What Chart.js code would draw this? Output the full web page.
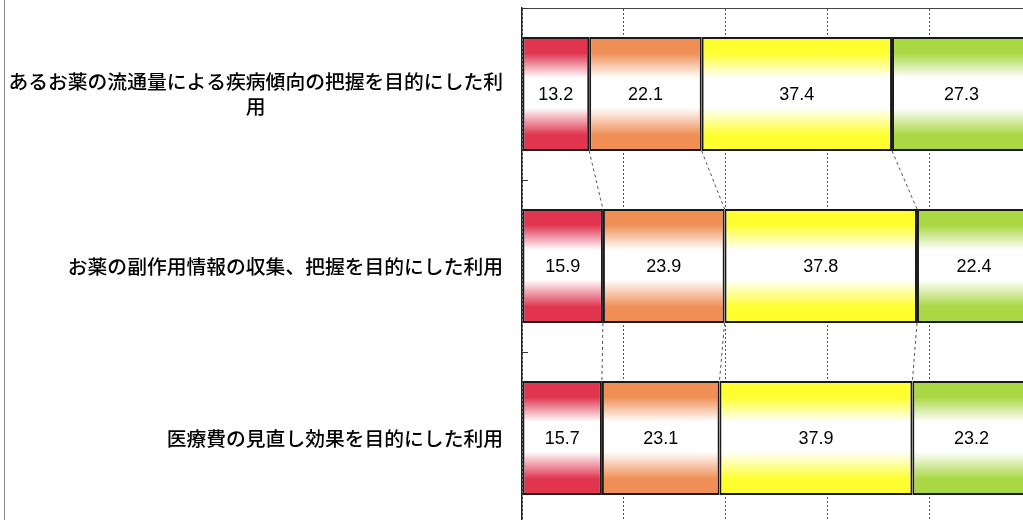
<!DOCTYPE html>
<html lang="ja">
  <head>
    <meta charset="utf-8">
    <title>利用目的別の回答割合</title>
    <style>
      html, body { margin: 0; padding: 0; background: #fff; overflow: hidden; }
      #wrap { position: absolute; left: 0; top: 0; width: 1040px; height: 540px; }
    </style>
  </head>

  <body>
    <div id="wrap"><canvas id="MyCanvas" width="1040" height="540"></canvas></div>

    <script src="https://cdn.jsdelivr.net/npm/chart.js"></script>

    <script>
      // categorias (eje vertical), con salto de linea como en el original
      const categories = [
        ['あるお薬の流通量による疾病傾向の把握を目的にした利', '用'],
        ['お薬の副作用情報の収集、把握を目的にした利用'],
        ['医療費の見直し効果を目的にした利用']
      ];

      // valores de cada serie (%)
      const serie1 = [13.2, 15.9, 15.7];
      const serie2 = [22.1, 23.9, 23.1];
      const serie3 = [37.4, 37.8, 37.9];
      const serie4 = [27.3, 22.4, 23.2];

      const xTicks = [0, 20, 40, 60, 80, 100];

      const colors = ['#E0344F', '#EF8F56', '#FFFF30', '#AAD744'];
      const barPct = 0.663;

      // gradiente vertical: color arriba y abajo, blanco al centro
      function grad(color) {
        return function (ctx) {
          const chart = ctx.chart;
          const y = chart.scales && chart.scales.y;
          if (!y || ctx.type !== 'data') return color;
          const c = y.getPixelForValue(ctx.dataIndex);
          const step = Math.abs(y.getPixelForValue(1) - y.getPixelForValue(0));
          if (!isFinite(c) || !isFinite(step) || step === 0) return color;
          const half = step * barPct / 2;
          const g = chart.ctx.createLinearGradient(0, c - half, 0, c + half);
          g.addColorStop(0, color);
          g.addColorStop(0.14, color);
          g.addColorStop(0.36, '#ffffff');
          g.addColorStop(0.62, '#ffffff');
          g.addColorStop(0.86, color);
          g.addColorStop(1, color);
          return g;
        };
      }

      const series = [serie1, serie2, serie3, serie4];

      // borde izquierdo del area del grafico
      const chartBorder = {
        id: 'chartBorder',
        beforeDraw(chart) {
          const c = chart.ctx;
          c.save();
          c.strokeStyle = '#8a8a8a';
          c.lineWidth = 1;
          c.beginPath();
          c.moveTo(4.5, 0);
          c.lineTo(4.5, chart.height);
          c.stroke();
          c.restore();
        }
      };

      // lineas de serie punteadas entre barras
      const seriesLines = {
        id: 'seriesLines',
        afterDatasetsDraw(chart) {
          const c = chart.ctx;
          c.save();
          c.strokeStyle = '#555';
          c.lineWidth = 1;
          c.setLineDash([3, 3]);
          chart.data.datasets.forEach(function (ds, i) {
            const els = chart.getDatasetMeta(i).data;
            for (let k = 0; k < els.length - 1; k++) {
              const a = els[k].getProps(['x', 'y', 'height'], true);
              const b = els[k + 1].getProps(['x', 'y', 'height'], true);
              c.beginPath();
              c.moveTo(a.x, a.y + a.height / 2);
              c.lineTo(b.x, b.y - b.height / 2);
              c.stroke();
            }
          });
          c.restore();
        }
      };

      // etiquetas de valores en el centro de cada segmento
      const valueLabels = {
        id: 'valueLabels',
        afterDatasetsDraw(chart) {
          const c = chart.ctx;
          c.save();
          c.font = '18px "Liberation Sans", Arial, sans-serif';
          c.fillStyle = '#000';
          c.textAlign = 'center';
          c.textBaseline = 'middle';
          chart.data.datasets.forEach(function (ds, i) {
            chart.getDatasetMeta(i).data.forEach(function (el, k) {
              const p = el.getProps(['x', 'y', 'base'], true);
              c.fillText(ds.data[k].toFixed(1), (p.x + p.base) / 2, p.y + 1);
            });
          });
          c.restore();
        }
      };

      // etiquetas de categoria: lineas centradas, bloque alineado a la derecha
      const catLabels = {
        id: 'catLabels',
        afterDraw(chart) {
          const c = chart.ctx;
          const y = chart.scales.y;
          const right = 503;
          const lh = 25;
          c.save();
          c.font = '500 19.8px "Noto Sans CJK JP", sans-serif';
          c.fillStyle = '#000';
          c.textAlign = 'center';
          c.textBaseline = 'middle';
          categories.forEach(function (lines, i) {
            let w = 0;
            lines.forEach(function (t) { w = Math.max(w, c.measureText(t).width); });
            const cx = right - w / 2;
            const cy = y.getPixelForValue(i);
            lines.forEach(function (t, j) {
              c.fillText(t, cx, cy + (j - (lines.length - 1) / 2) * lh);
            });
          });
          // marcas pequenas hacia dentro entre categorias
          c.strokeStyle = '#333';
          c.lineWidth = 1;
          for (let i = 0; i <= categories.length; i++) {
            const py = Math.round(y.getPixelForValue(i - 0.5)) + 0.5;
            c.beginPath();
            c.moveTo(chart.chartArea.left, py);
            c.lineTo(chart.chartArea.left + 6, py);
            c.stroke();
          }
          c.restore();
        }
      };

      const ctx = document.getElementById('MyCanvas');
      const MyCanvas = new Chart(ctx, {
        type: 'bar',
        data: {
          labels: categories.map(function (l) { return l.join(''); }),
          datasets: series.map(function (s, i) {
            return {
              label: 'serie' + (i + 1),
              data: s,
              backgroundColor: grad(colors[i]),
              borderColor: '#1a1a1a',
              borderWidth: 2,
              borderSkipped: false,
              barPercentage: barPct,
              categoryPercentage: 1
            };
          })
        },
        options: {
          indexAxis: 'y',
          responsive: false,
          animation: false,
          devicePixelRatio: 1,
          layout: { padding: { left: 0, right: 9, top: 8, bottom: 16 } },
          plugins: {
            legend: { display: false },
            tooltip: { enabled: false }
          },
          scales: {
            x: {
              position: 'top',
              stacked: true,
              min: 0,
              max: 100,
              afterBuildTicks: function (scale) {
                scale.ticks = xTicks.map(function (v) { return { value: v }; });
              },
              ticks: { display: false },
              grid: { color: '#555', lineWidth: 1, drawTicks: false },
              border: { display: true, color: '#444', width: 1, dash: [2, 2] }
            },
            y: {
              stacked: true,
              ticks: { display: false },
              grid: { display: false, drawTicks: false },
              border: { display: true, color: '#222', width: 1.5 },
              afterFit: function (scale) { scale.width = 522; }
            }
          }
        },
        plugins: [chartBorder, seriesLines, valueLabels, catLabels]
      });
    </script>
  </body>
</html>
